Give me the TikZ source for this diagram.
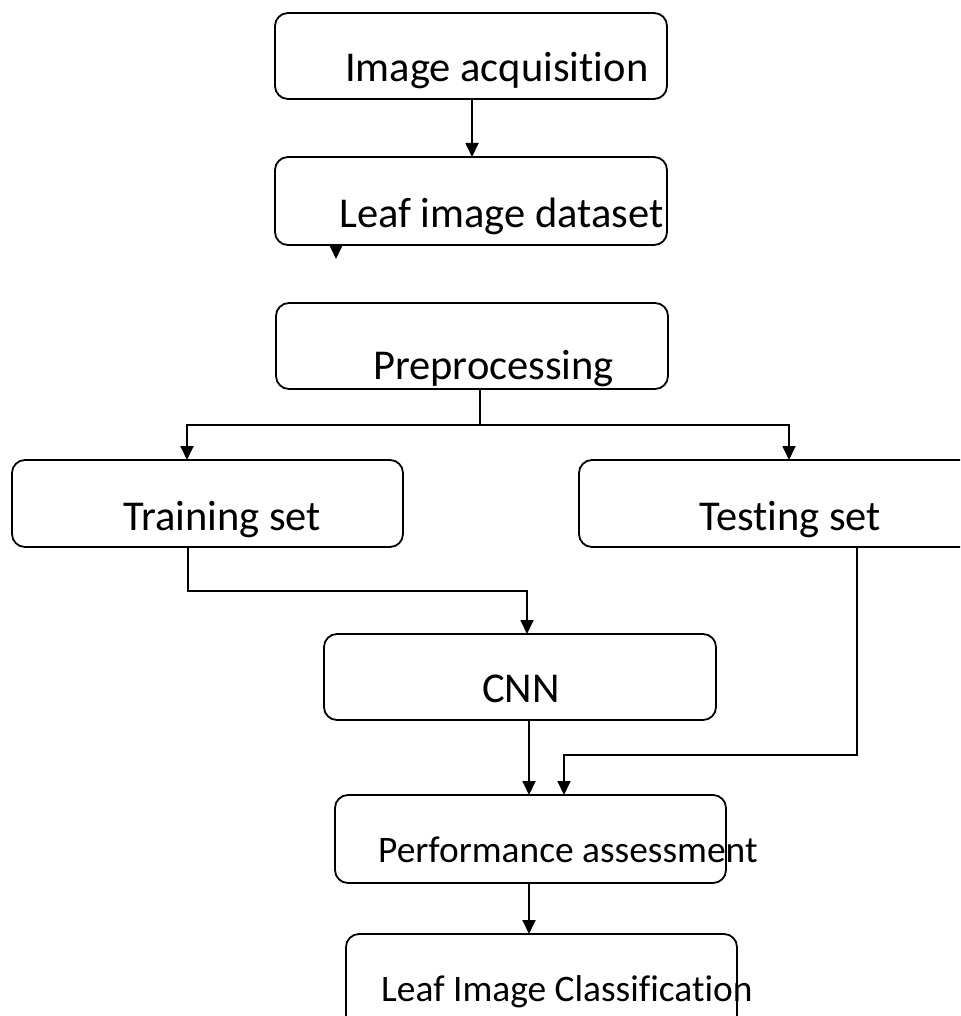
\documentclass[tikz,border=0pt]{standalone}
\usepackage{fontspec}
\setmainfont{Carlito}[Ligatures=NoCommon]
\usetikzlibrary{arrows.meta}
\begin{document}
\begin{tikzpicture}[x=1pt,y=-1pt,
  box/.style={draw,line width=1.8pt,rounded corners=13pt},
  lbl/.style={anchor=base west,inner sep=0pt,font=\fontsize{42.5}{50}\selectfont},
  lbls/.style={anchor=base west,inner sep=0pt,font=\fontsize{37.4}{44}\selectfont},
  arr/.style={line width=1.8pt,-{Triangle[width=13pt,length=14pt]}},
  ln/.style={line width=1.8pt}]
\useasboundingbox (0,0) rectangle (960,1016);
\clip (0,0) rectangle (960,1016);
% boxes
\draw[box] (275,13) rectangle (667,99);
\draw[box] (275,157) rectangle (667,245);
\draw[box] (276,303) rectangle (668,389);
\draw[box] (12,460) rectangle (403,547);
\draw[box] (579,460) rectangle (975,547);
\draw[box] (324,634) rectangle (716,720);
\draw[box] (335,795) rectangle (726,883);
\draw[box] (346,934) rectangle (737,1040);
% named anchor coordinates
\coordinate (acqB) at (472,99);
\coordinate (dsT) at (472,157);
\coordinate (dsS) at (336,245);
\coordinate (dsE) at (336,259);
\coordinate (preB) at (480,389);
\coordinate (preJ) at (480,425);
\coordinate (trT) at (187,460);
\coordinate (teT) at (789,460);
\coordinate (trB) at (188,547);
\coordinate (cnnT) at (527,634);
\coordinate (cnnB) at (529,720);
\coordinate (teB) at (857,547);
\coordinate (paT1) at (529,795);
\coordinate (paT2) at (564,795);
\coordinate (paB) at (529,883);
\coordinate (licT) at (529,934);
% texts
\node[lbl] (t1) at (345,82) {Image acquisition};
\node[lbl] (t2) at (339,227) {Leaf image dataset};
\node[lbl] (t3) at (373,379) {Preprocessing};
\node[lbl] (t4) at (123,530) {Training set};
\node[lbl] (t5) at (699,530) {Testing set};
\node[lbl] (t6) at (482,702) {CNN};
\node[lbls] (t7) at (378,862) {Performance assessment};
\node[lbls] (t8) at (381,1001) {Leaf Image Classification};
% connectors
\draw[arr] (acqB) -- (dsT);
\draw[arr] (dsS) -- (dsE);
\draw[ln] (preB) -- (preJ);
\draw[arr] (preJ) -| (trT);
\draw[arr] (preJ) -| (teT);
\draw[arr] (trB) |- (350,591) -| (cnnT);
\draw[arr] (cnnB) -- (paT1);
\draw[arr] (teB) |- (700,755) -| (paT2);
\draw[arr] (paB) -- (licT);
\end{tikzpicture}
\end{document}
